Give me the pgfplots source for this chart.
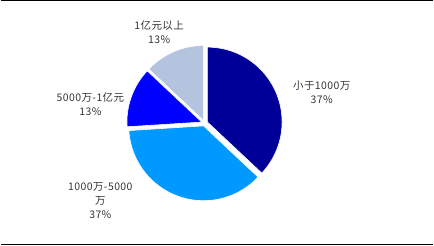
\documentclass[border=0pt]{standalone}
\usepackage{pgfplots}
\pgfplotsset{compat=1.18}
\usepackage{pgfplotstable}
\usepackage{fontspec}
\setmainfont{Noto Sans CJK SC}[LetterSpace=4]
\definecolor{pieA}{HTML}{000099}
\definecolor{pieB}{HTML}{0099FF}
\definecolor{pieC}{HTML}{0000FF}
\definecolor{pieD}{HTML}{B4C3DE}
\definecolor{lbl}{HTML}{333333}
\pgfplotstableread{
idx value
0 37
1 37
2 13
3 13
}\piedata
\begin{document}
\begin{tikzpicture}
\begin{axis}[width=434pt,height=250pt,scale only axis,
  xmin=0,xmax=434,ymin=0,ymax=250,hide axis,clip=false]
\def\cum{0}
\pgfplotstablegetrowsof{\piedata}
\pgfmathtruncatemacro\N{\pgfplotsretval-1}
\pgfplotsforeachungrouped \i in {0,...,\N}{%
  \pgfplotstablegetelem{\i}{value}\of\piedata
  \let\v\pgfplotsretval
  \pgfmathsetmacro\aS{90-3.6*\cum}%
  \pgfmathsetmacro\aE{90-3.6*(\cum+\v)}%
  \pgfmathsetmacro\aM{(\aS+\aE)/2}%
  \pgfmathsetmacro\cx{204.5+3*cos(\aM)}%
  \pgfmathsetmacro\cy{126+3*sin(\aM)}%
  \pgfmathsetmacro\cum{\cum+\v}%
  \ifcase\i \def\col{pieA}\or \def\col{pieB}\or \def\col{pieC}\else \def\col{pieD}\fi
  \edef\temp{\noexpand\fill[\col,draw=white,line width=0.6pt] (axis cs:\cx,\cy) -- ++(\aS:75pt) arc[start angle=\aS,end angle=\aE,radius=75pt] -- cycle;}%
  \temp
}
\draw[line width=1.3pt] (axis cs:0,248.8) -- (axis cs:434,248.8);
\draw[line width=1.3pt] (axis cs:0,4) -- (axis cs:434,4);
\begin{scope}[every node/.style={font=\fontsize{10.5}{14}\selectfont,text=lbl,align=center}]
\node at (axis cs:159,217) {1亿元以上\\13\%};
\node at (axis cs:322,156.5) {小于1000万\\37\%};
\node at (axis cs:90,145) {5000万-1亿元\\13\%};
\node at (axis cs:100,48.5) {1000万-5000\\万\\37\%};
\end{scope}
\end{axis}
\end{tikzpicture}
\end{document}
